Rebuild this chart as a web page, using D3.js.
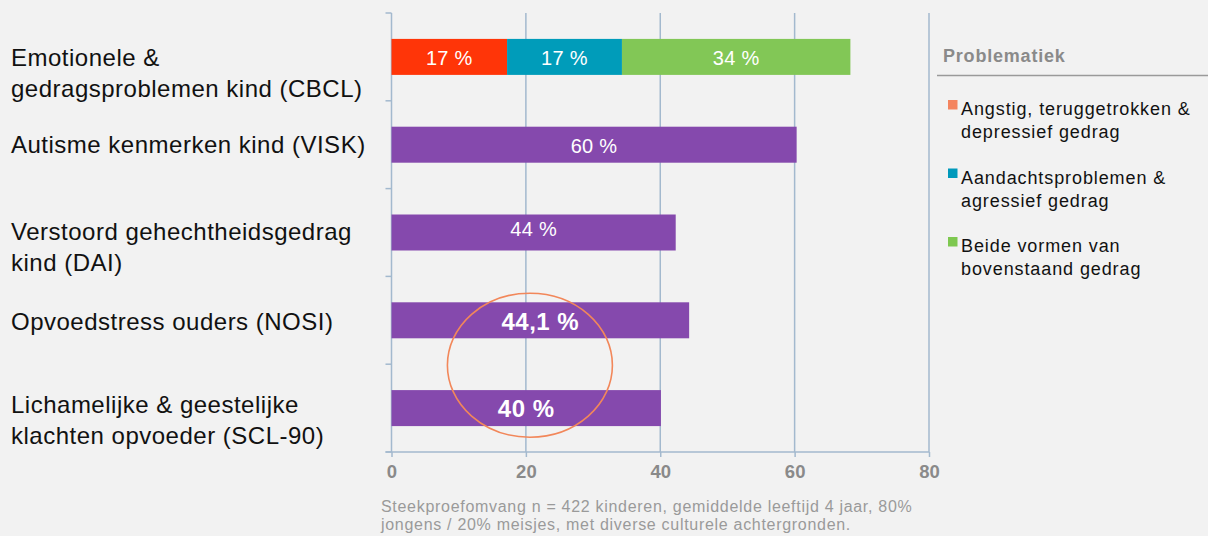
<!DOCTYPE html>
<html>
<head>
<meta charset="utf-8">
<script src="https://cdn.jsdelivr.net/npm/d3@7"></script>
<style>
  html, body { margin: 0; padding: 0; background: #f2f2f2; }
  svg { display: block; font-family: "Liberation Sans", Arial, Helvetica, sans-serif; }
</style>
</head>
<body>
<svg id="chart" width="1208" height="536"></svg>
<script>
// ---- data ----
const categories = ["CBCL", "VISK", "DAI", "NOSI", "SCL-90"];
const categoryLabels = [
  ["Emotionele &", "gedragsproblemen kind (CBCL)"],
  ["Autisme kenmerken kind (VISK)"],
  ["Verstoord gehechtheidsgedrag", "kind (DAI)"],
  ["Opvoedstress ouders (NOSI)"],
  ["Lichamelijke & geestelijke", "klachten opvoeder (SCL-90)"]
];
const stackSeries = ["Angstig, teruggetrokken & depressief gedrag",
                     "Aandachtsproblemen & agressief gedrag",
                     "Beide vormen van bovenstaand gedrag"];
const legendLines = [
  ["Angstig, teruggetrokken &", "depressief gedrag"],
  ["Aandachtsproblemen &", "agressief gedrag"],
  ["Beide vormen van", "bovenstaand gedrag"]
];
const stackValues = [17.2, 17.1, 34];           // CBCL segments
const stackLabels = ["17 %", "17 %", "34 %"];
const singleCategories = ["VISK", "DAI", "NOSI", "SCL-90"];
const singleValues = [60.3, 42.3, 44.3, 40.1];
const singleLabels = ["60 %", "44 %", "44,1 %", "40 %"];
const singleBold = [false, false, true, true];
const xTicks = [0, 20, 40, 60, 80];
const legendTitle = "Problematiek";
const footnote = ["Steekproefomvang n = 422 kinderen, gemiddelde leeftijd 4 jaar, 80%",
                  "jongens / 20% meisjes, met diverse culturele achtergronden."];

// ---- styles ----
const barColors = ["#ff3508", "#009cba", "#82c756"];
const legendColors = ["#f4845f", "#0099bb", "#7ec850"];
const purple = "#8549ad";
const gridColor = "#a3b9ce";

const svg = d3.select("#chart");
const x = d3.scaleLinear().domain([0, 80]).range([391.5, 929]);
const y = d3.scaleBand().domain(categories).range([13, 452])
  .paddingInner(0.59).paddingOuter(0.295);
const step = y.step();
const bandCenter = c => y(c) + y.bandwidth() / 2;

// gridlines
svg.append("g").selectAll("line").data(xTicks.slice(1)).join("line")
  .attr("x1", d => x(d)).attr("x2", d => x(d))
  .attr("y1", 13).attr("y2", 452)
  .attr("stroke", gridColor).attr("stroke-width", 1.5);

// y axis line + ticks at band boundaries
svg.append("line").attr("x1", x(0)).attr("x2", x(0)).attr("y1", 13).attr("y2", 452)
  .attr("stroke", gridColor).attr("stroke-width", 1.5);
const bounds = d3.range(categories.length + 1).map(i => 13 + i * step);
svg.append("g").selectAll("line").data(bounds).join("line")
  .attr("x1", x(0) - 6).attr("x2", x(0))
  .attr("y1", d => d).attr("y2", d => d)
  .attr("stroke", gridColor).attr("stroke-width", 1.5);

// x axis
const xAxis = svg.append("g").attr("transform", "translate(0,452)")
  .call(d3.axisBottom(x).tickValues(xTicks).tickSize(5).tickPadding(8).tickFormat(d3.format("d")));
xAxis.select(".domain").remove();
xAxis.append("line").attr("x1", x(0) - 6).attr("x2", x(80)).attr("y1", 0).attr("y2", 0)
  .attr("stroke", gridColor).attr("stroke-width", 1.5);
xAxis.selectAll(".tick line").attr("stroke", gridColor).attr("stroke-width", 1.5);
xAxis.selectAll(".tick text").attr("fill", "#8a8a8a").attr("font-size", 18.5)
  .attr("font-weight", "bold").attr("font-family", "'Liberation Sans', Arial, sans-serif");

// stacked bar (CBCL)
const stackStarts = stackValues.map((v, i) => d3.sum(stackValues.slice(0, i)));
const stackG = svg.append("g");
stackG.selectAll("rect").data(stackValues).join("rect")
  .attr("x", (d, i) => x(stackStarts[i]))
  .attr("width", (d, i) => x(stackStarts[i] + d) - x(stackStarts[i]))
  .attr("y", y("CBCL")).attr("height", y.bandwidth())
  .attr("fill", (d, i) => barColors[i]);
stackG.selectAll("text").data(stackValues).join("text")
  .attr("x", (d, i) => x(stackStarts[i] + d / 2))
  .attr("y", bandCenter("CBCL") + 8)
  .attr("text-anchor", "middle").attr("fill", "#fff").attr("font-size", 20)
  .attr("letter-spacing", 0.3)
  .text((d, i) => stackLabels[i]);

// single bars
const sg = svg.append("g");
sg.selectAll("rect").data(singleValues).join("rect")
  .attr("x", x(0))
  .attr("width", d => x(d) - x(0))
  .attr("y", (d, i) => y(singleCategories[i])).attr("height", y.bandwidth())
  .attr("fill", purple);
const labelDy = [8, 3, 10, 9];
sg.selectAll("text").data(singleValues).join("text")
  .attr("x", d => x(d / 2))
  .attr("y", (d, i) => bandCenter(singleCategories[i]) + labelDy[i])
  .attr("text-anchor", "middle").attr("fill", "#fff")
  .attr("font-size", (d, i) => singleBold[i] ? 24 : 20)
  .attr("letter-spacing", (d, i) => singleBold[i] ? 0.5 : 0.3)
  .attr("font-weight", (d, i) => singleBold[i] ? "bold" : "normal")
  .text((d, i) => singleLabels[i]);

// highlight ellipse
svg.append("ellipse").attr("cx", x(20.6)).attr("cy", (bandCenter("NOSI") + bandCenter("SCL-90")) / 2 + 1)
  .attr("rx", 82.5).attr("ry", 72)
  .attr("fill", "none").attr("stroke", "#f2875a").attr("stroke-width", 1.6);

// category labels
const firstDy = [9, 8, 7, 10, 5];
const catG = svg.append("g");
categoryLabels.forEach((lines, i) => {
  const c = categories[i];
  const t = catG.append("text").attr("x", 11).attr("font-size", 24)
    .attr("letter-spacing", 0.5).attr("fill", "#111");
  lines.forEach((ln, j) => {
    t.append("tspan").attr("x", 11)
      .attr("y", bandCenter(c) + firstDy[i] + j * 31)
      .text(ln);
  });
});

// legend
const lg = svg.append("g");
lg.append("text").attr("x", 943).attr("y", 62).attr("font-size", 18).attr("font-weight", "bold")
  .attr("letter-spacing", 0.8).attr("fill", "#8a8a8a").text(legendTitle);
lg.append("line").attr("x1", 937).attr("x2", 1208).attr("y1", 75.5).attr("y2", 75.5)
  .attr("stroke", "#9a9a9a").attr("stroke-width", 1.5);
stackSeries.forEach((s, i) => {
  const top = 100 + i * 68.5;
  lg.append("rect").attr("x", 948).attr("y", top).attr("width", 9.5).attr("height", 9.5)
    .attr("fill", legendColors[i]);
  const t = lg.append("text").attr("font-size", 18).attr("letter-spacing", 0.9).attr("fill", "#111");
  legendLines[i].forEach((ln, j) => {
    t.append("tspan").attr("x", 961).attr("y", top + 15 + j * 23).text(ln);
  });
});

// footnote
const fn = svg.append("text").attr("font-size", 16).attr("letter-spacing", 0.7).attr("fill", "#9a9a9a");
footnote.forEach((ln, j) => {
  fn.append("tspan").attr("x", 381).attr("y", 512 + j * 17.5).text(ln);
});
</script>
</body>
</html>
